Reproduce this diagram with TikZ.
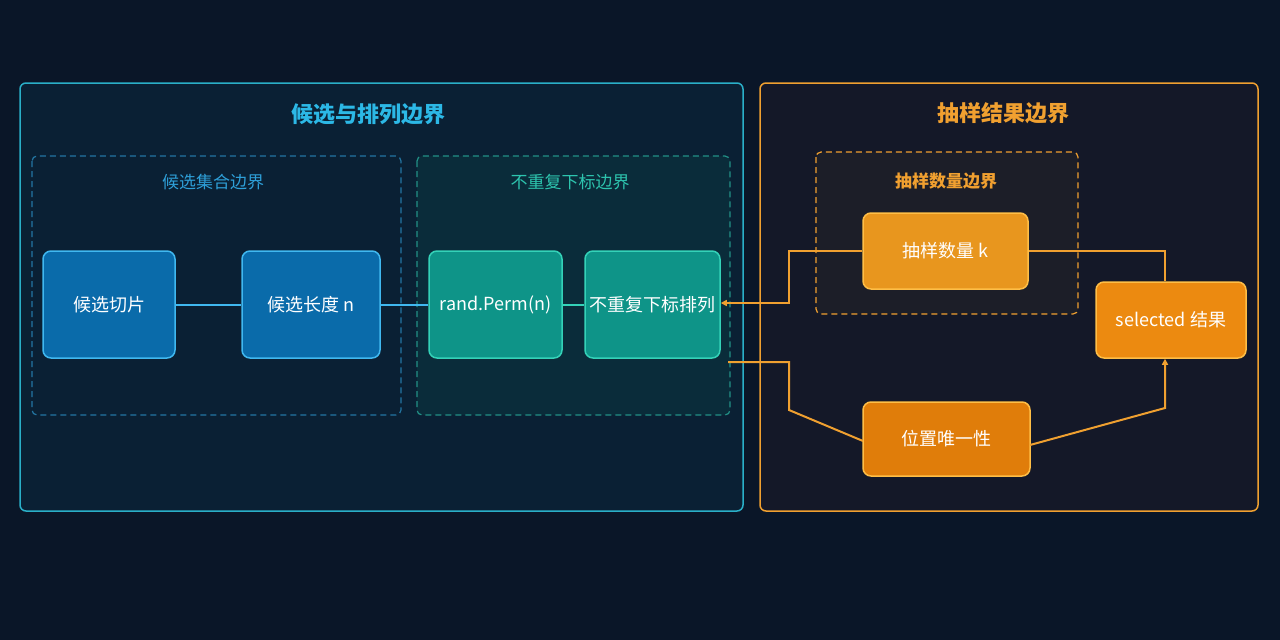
\documentclass[tikz,border=0pt]{standalone}
\usepackage{fontspec}
\setmainfont{Noto Sans CJK SC}
\usetikzlibrary{arrows.meta}
\definecolor{bg}{HTML}{0A1628}
\definecolor{cy}{HTML}{2AAFC8}
\definecolor{cyt}{HTML}{2CB8E6}
\definecolor{bl}{HTML}{2E9FD8}
\definecolor{te}{HTML}{2DC4AE}
\definecolor{og}{HTML}{F0A030}
\definecolor{blf}{HTML}{0A6BAA}
\definecolor{bls}{HTML}{40B8F0}
\definecolor{tef}{HTML}{0E9488}
\definecolor{tes}{HTML}{34D2B8}
\begin{document}
\begin{tikzpicture}[x=1pt,y=-1pt,
 box/.style={rounded corners=8pt,line width=1.5pt,text=white,font=\fontsize{18}{20}\selectfont},
 bnode/.style={box,fill=blf,draw=bls},
 tnode/.style={box,fill=tef,draw=tes},
 onode/.style={box,draw={rgb,255:red,255;green,190;blue,70}},
 title/.style={font=\fontsize{22}{24}\selectfont\bfseries},
 sub/.style={font=\fontsize{17}{20}\selectfont},
 wire/.style={line width=2pt},
]
\fill[bg] (0,0) rectangle (1280,640);
\useasboundingbox (0,0) rectangle (1280,640);
\draw[cy,line width=1.5pt,fill={rgb,255:red,10;green,32;blue,52},rounded corners=6pt] (20,83) rectangle (743,511);
\node[title,text=cyt] (t1) at (368,114) {候选与排列边界};
\draw[og,line width=1.5pt,fill={rgb,255:red,20;green,24;blue,40},rounded corners=6pt] (760,83) rectangle (1258,511);
\node[title,text=og] (t2) at (1003,113) {抽样结果边界};
\draw[bl!70!bg,line width=1.2pt,dash pattern=on 6pt off 4pt,rounded corners=5pt] (32,156) rectangle (401,415);
\node[sub,text=bl] (s1) at (213,182) {候选集合边界};
\draw[te!70!bg,line width=1.2pt,dash pattern=on 6pt off 4pt,rounded corners=5pt,fill={rgb,255:red,10;green,44;blue,58}] (417,156) rectangle (730,415);
\node[sub,text=te] (s2) at (570,182) {不重复下标边界};
\draw[og,line width=1.2pt,dash pattern=on 6pt off 4pt,rounded corners=5pt,fill={rgb,255:red,28;green,30;blue,40}] (816,152) rectangle (1078,314);
\node[sub,text=og,font=\fontsize{17}{20}\selectfont\bfseries] (s3) at (946,181) {抽样数量边界};
\node[bnode,minimum width=132pt,minimum height=107pt] (a) at (109,304.5) {候选切片};
\node[bnode,minimum width=138pt,minimum height=107pt] (b) at (311,304.5) {候选长度 n};
\node[tnode,minimum width=133pt,minimum height=107pt] (c) at (495.5,304.5) {rand.Perm(n)};
\node[tnode,minimum width=135pt,minimum height=107pt] (d) at (652.5,304.5) {不重复下标排列};
\node[onode,fill={rgb,255:red,232;green,150;blue,30},minimum width=165pt,minimum height=76pt] (k) at (945.5,251) {抽样数量 k};
\node[onode,fill={rgb,255:red,236;green,138;blue,16},minimum width=150pt,minimum height=76pt] (s) at (1171,320) {selected 结果};
\node[onode,fill={rgb,255:red,224;green,125;blue,10},minimum width=167pt,minimum height=74pt] (u) at (946.5,439) {位置唯一性};
\draw[wire,bls] (a) -- (b);
\draw[wire,bls] (b) -- (c);
\draw[wire,tes] (c) -- (d);
\coordinate (p1) at (789,251); \coordinate (p2) at (789,303);
\draw[wire,og,-{Triangle[length=6pt,width=6pt]}] (k.west) -- (p1) -- (p2) -- (d.east|-p2);
\coordinate (p3) at (1165,251);
\draw[wire,og] (k.east) -- (p3) -- (p3|-s.north);
\coordinate (q0) at (728,362); \coordinate (q1) at (789,362); \coordinate (q2) at (789,410); \coordinate (q3) at (863,441);
\draw[wire,og] (q0) -- (q1) -- (q2) -- (q3);
\coordinate (r1) at (1030,445); \coordinate (r2) at (1165,408);
\draw[wire,og,-{Triangle[length=6pt,width=6pt]}] (r1) -- (r2) -- (r2|-s.south);
\end{tikzpicture}
\end{document}
